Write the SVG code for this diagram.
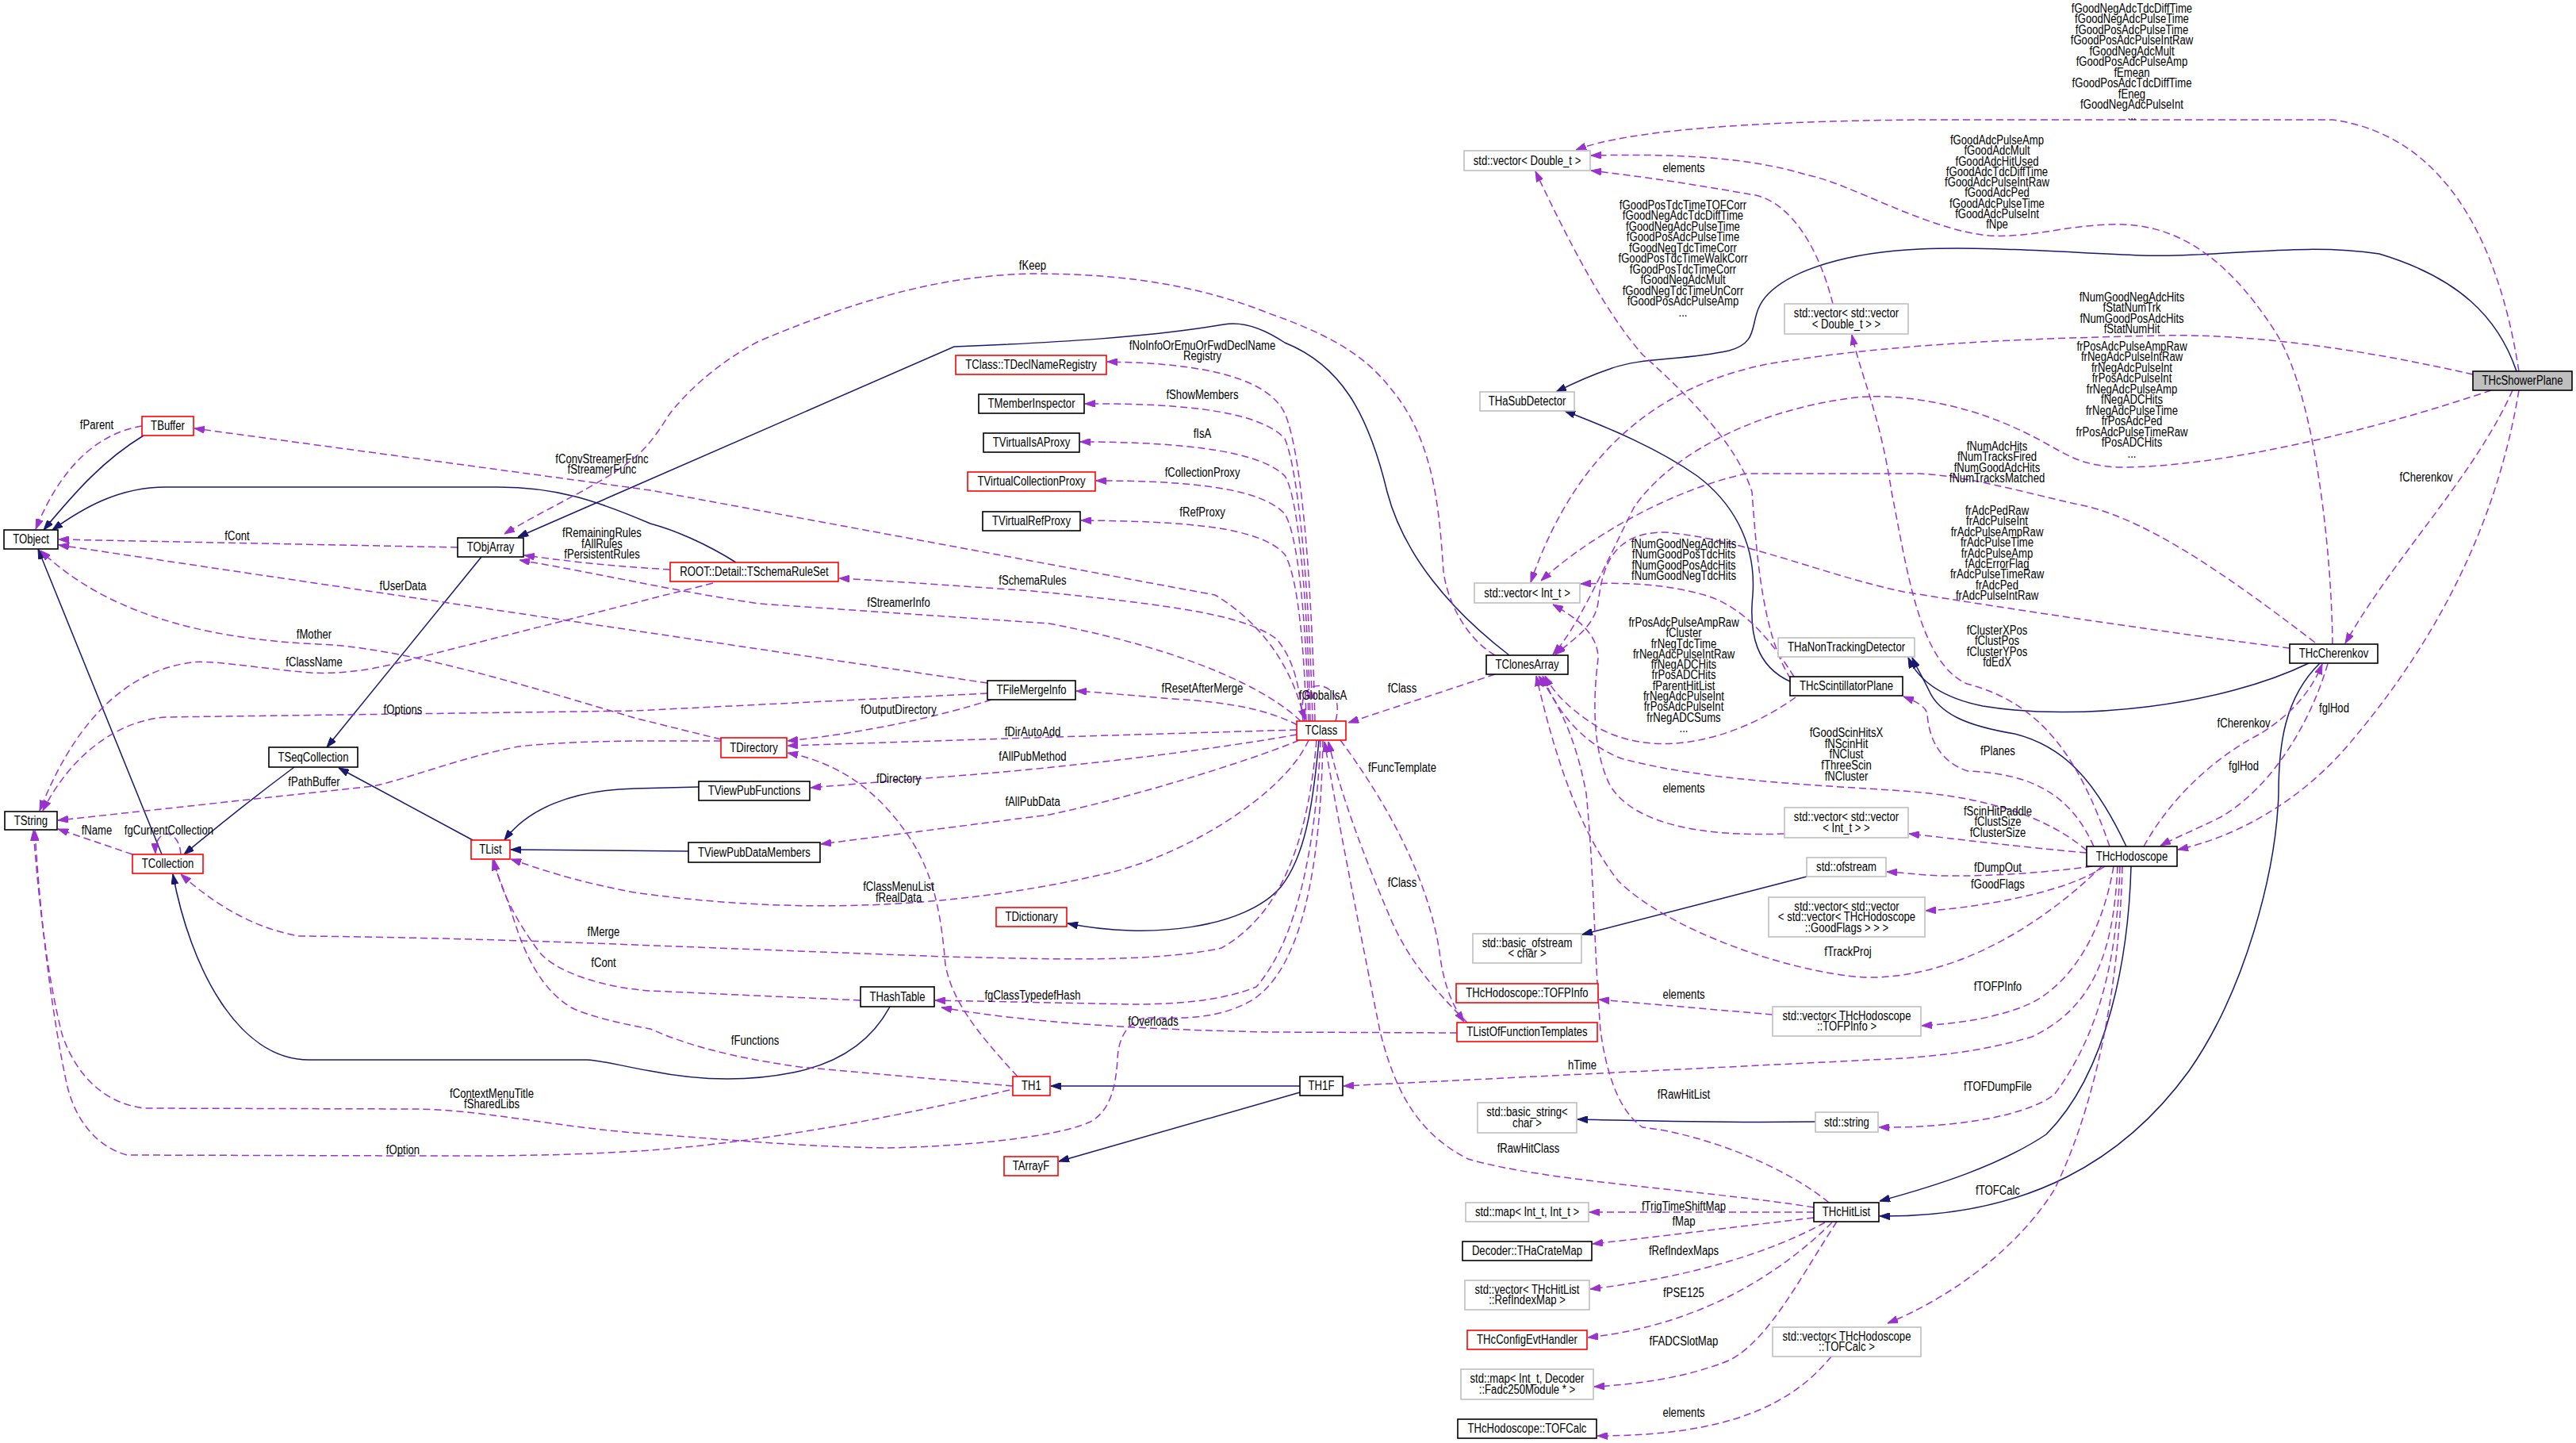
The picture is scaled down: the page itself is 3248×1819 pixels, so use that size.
<svg xmlns="http://www.w3.org/2000/svg" width="3248" height="1819" viewBox="0 0 3248 1819">
<style>
text{font-family:"Liberation Sans",Arial,sans-serif;font-size:16px;fill:#000;text-anchor:middle;transform-box:fill-box;transform-origin:center;transform:scaleX(0.82)}
.node rect{fill:#fff;stroke:#000;stroke-width:1.6}
.node.red rect{stroke:#ff0000}
.node.gray rect{stroke:#bfbfbf}
.node.root rect{fill:#bfbfbf;stroke:#000}
.e path{fill:none}
.d{stroke:#9a32cd;stroke-width:1.5;stroke-dasharray:9,5;marker-end:url(#ap)}
.s{stroke:#191970;stroke-width:1.5;marker-end:url(#an)}
</style>
<defs>
<marker id="ap" viewBox="0 0 13 9" refX="13" refY="4.5" markerWidth="13" markerHeight="9" markerUnits="userSpaceOnUse" orient="auto"><path d="M0,0 L13,4.5 L0,9 z" fill="#9a32cd" stroke="#9a32cd"/></marker>
<marker id="an" viewBox="0 0 13 9" refX="13" refY="4.5" markerWidth="13" markerHeight="9" markerUnits="userSpaceOnUse" orient="auto"><path d="M0,0 L13,4.5 L0,9 z" fill="#191970" stroke="#191970"/></marker>
</defs>
<rect x="0" y="0" width="3248" height="1819" fill="#fff"/>

<g id="edges" class="e">
<!-- inheritance -->
<path class="s" d="M181,549 C130,580 95,620 55,668"/>
<path class="s" d="M607,702 L412,942"/>
<path class="s" d="M371,967 Q300,1020 232,1077"/>
<path class="s" d="M204,1077 L48,692"/>
<path class="s" d="M596,1059 L427,968"/>
<path class="s" d="M1122,1269 C1100,1310 1060,1340 1000,1352 C940,1364 880,1362 820,1350 C780,1343 760,1337 740,1336 L390,1336 C300,1336 240,1220 218,1102"/>
<path class="s" d="M881,992 L800,994 C720,996 665,1020 636,1059"/>
<path class="s" d="M868,1073 L644,1071"/>
<path class="s" d="M1663,933 C1655,1020 1645,1080 1615,1118 C1570,1170 1450,1185 1346,1164"/>
<path class="s" d="M1639,1369 L1325,1369"/>
<path class="s" d="M1639,1377 L1335,1464"/>
<path class="s" d="M1903,826 C1830,770 1770,700 1749,620 C1725,520 1690,460 1620,432 C1590,412 1565,405 1543,409 C1450,425 1330,432 1203,437 L653,677"/>
<path class="s" d="M928,709 C890,685 850,668 820,660 C750,630 700,614 628,614 L209,614 C150,614 105,640 66,668"/>
<path class="s" d="M2257,859 C2215,840 2205,800 2210,750 C2215,680 2180,630 2140,600 C2090,565 2030,540 1973,518"/>
<path class="s" d="M3173,468 C3150,400 3100,350 3000,320 C2900,305 2800,325 2700,322 C2600,318 2500,310 2420,314 C2330,318 2260,340 2230,370 C2200,400 2225,430 2180,442 C2120,455 2070,450 2030,465 C2000,475 1980,485 1962,494"/>
<path class="s" d="M2911,836 C2800,890 2620,910 2500,890 C2450,880 2420,860 2406,829"/>
<path class="s" d="M2681,1067 C2640,980 2600,940 2540,925 C2480,915 2445,900 2432,870 C2422,850 2416,840 2411,829"/>
<path class="s" d="M2687,1092 C2684,1200 2660,1350 2580,1430 C2520,1470 2440,1495 2370,1514"/>
<path class="s" d="M2925,836 C2880,880 2873,940 2873,1000 C2870,1100 2830,1250 2760,1350 C2680,1460 2560,1535 2370,1533"/>
<path class="s" d="M2278,1105 L1995,1178"/>
<path class="s" d="M2289,1414 C2150,1416 2050,1412 1989,1411"/>
<!-- usage -->
<path class="d" d="M179,537 C130,545 80,580 45,667"/>
<path class="d" d="M577,690 L74,680"/>
<path class="d" d="M1245,861 L74,687"/>
<path class="d" d="M909,932 L800,905 C650,860 500,815 400,812 C250,805 130,770 51,694"/>
<path class="d" d="M899,735 C860,745 830,752 800,760 L523,830 C470,845 430,850 392,848 C320,842 260,830 235,836 C150,850 90,920 50,1022"/>
<path class="d" d="M1245,874 L800,896 L209,904 C150,908 90,950 54,1022"/>
<path class="d" d="M909,934 L800,934 C720,935 680,938 654,941 C580,955 520,980 471,991 L73,1034"/>
<path class="d" d="M167,1077 L73,1045"/>
<path class="d" d="M228,1077 C226,1043 194,1043 196,1076"/>
<path class="d" d="M1885,826 C1850,806 1825,760 1820,720 C1815,650 1810,560 1757,494 C1730,460 1700,430 1600,395 C1500,355 1400,345 1302,345 C1200,347 1100,370 957,430 C900,460 860,500 842,525 C830,545 815,565 800,577 C760,610 690,640 636,673"/>
<path class="d" d="M845,718 L800,715 C760,712 720,708 661,700"/>
<path class="d" d="M1640,909 C1600,870 1500,820 1323,786 L957,761 C850,745 750,722 655,706"/>
<path class="d" d="M1645,909 C1630,840 1590,785 1532,750 L820,618 L245,540"/>
<path class="d" d="M1658,909 C1655,780 1645,580 1620,521 C1600,480 1530,458 1396,456"/>
<path class="d" d="M1655,909 C1652,780 1640,600 1620,553 C1590,520 1500,508 1368,509"/>
<path class="d" d="M1652,909 C1650,800 1640,630 1620,600 C1590,570 1500,557 1362,557"/>
<path class="d" d="M1650,909 C1648,820 1640,680 1620,648 C1590,615 1500,606 1382,606"/>
<path class="d" d="M1647,909 C1645,830 1638,730 1620,699 C1590,665 1500,657 1363,656"/>
<path class="d" d="M1643,909 C1638,860 1630,830 1610,806 C1570,775 1480,763 1302,745 C1200,738 1100,731 1058,729"/>
<path class="d" d="M1636,914 C1600,895 1550,885 1480,881 C1430,877 1390,873 1357,871"/>
<path class="d" d="M1635,920 L1300,930 L993,940"/>
<path class="d" d="M1250,882 C1180,905 1080,925 993,934"/>
<path class="d" d="M1283,1357 C1230,1300 1200,1260 1192,1216 C1187,1160 1180,1100 1140,1046 C1100,990 1050,960 993,949"/>
<path class="d" d="M1635,926 C1500,950 1300,972 1166,981 L1022,993"/>
<path class="d" d="M1638,933 C1600,950 1450,1000 1323,1027 L1035,1064"/>
<path class="d" d="M1650,933 C1620,1000 1500,1075 1400,1100 C1250,1135 1050,1160 800,1125 C720,1110 680,1095 644,1083"/>
<path class="d" d="M1660,933 C1650,1050 1620,1150 1540,1195 C1450,1215 1300,1208 1192,1206 L800,1191 C650,1185 500,1181 377,1180 C320,1170 270,1140 228,1102"/>
<path class="d" d="M1085,1261 L820,1249 C760,1245 700,1225 680,1200 C650,1160 630,1120 623,1084"/>
<path class="d" d="M1277,1369 L1009,1345 C900,1330 850,1310 820,1297 C780,1290 740,1280 720,1270 C680,1245 660,1200 645,1150 C635,1120 626,1100 621,1084"/>
<path class="d" d="M1665,933 C1660,1050 1640,1180 1584,1244 C1540,1262 1480,1266 1428,1266 L1179,1261"/>
<path class="d" d="M1837,1302 L1600,1301 C1450,1298 1300,1290 1187,1270"/>
<path class="d" d="M1668,933 C1665,1100 1640,1220 1580,1260 C1530,1290 1470,1282 1443,1283 C1420,1290 1410,1310 1409,1335 C1407,1370 1400,1400 1375,1414 C1330,1435 1200,1446 1114,1447 C1000,1445 900,1435 800,1428 C700,1420 600,1398 523,1398 L183,1397 C120,1390 90,1340 78,1303 C60,1230 50,1150 42,1047"/>
<path class="d" d="M1273,1374 C1100,1415 950,1440 820,1450 C700,1458 600,1457 523,1457 L160,1456 C120,1445 95,1410 85,1370 C65,1280 50,1150 44,1047"/>
<path class="d" d="M1885,850 L1700,911"/>
<path class="d" d="M1690,933 C1740,1000 1800,1100 1815,1200 C1820,1240 1830,1265 1846,1288"/>
<path class="d" d="M1850,1289 C1800,1240 1770,1200 1750,1150 C1720,1080 1690,1000 1675,935"/>
<path class="d" d="M2287,1522 C2150,1500 1950,1490 1851,1461 C1790,1430 1760,1380 1740,1300 C1720,1200 1690,1050 1670,935"/>
<path class="d" d="M1684,909 C1700,850 1625,850 1646,907"/>
<path class="d" d="M2306,1516 C2250,1470 2150,1430 2071,1421 C2040,1400 2025,1350 2018,1299 C2010,1200 2010,1100 2000,1000 C1985,920 1960,880 1940,852"/>
<path class="d" d="M2264,879 C2200,925 2100,960 2020,920 C1980,895 1960,875 1948,852"/>
<path class="d" d="M2631,1072 C2570,1020 2480,1003 2400,997 C2300,990 2150,985 2044,956 C1990,935 1960,890 1945,852"/>
<path class="d" d="M2250,1051 C2150,1055 2060,1040 2030,990 C2005,940 2010,870 2015,830 C2015,800 1990,780 1958,762"/>
<path class="d" d="M2650,1092 C2560,1180 2450,1235 2350,1232 C2250,1225 2100,1170 2040,1110 C1985,1040 1955,930 1937,852"/>
<path class="d" d="M3118,472 C3000,445 2850,420 2724,423 C2600,426 2400,430 2228,459 C2100,485 1990,560 1930,734"/>
<path class="d" d="M2919,810 C2800,719 2700,650 2616,635 C2550,620 2480,600 2420,597 L2201,597 C2100,620 2000,680 1943,732"/>
<path class="d" d="M3141,492 C3000,540 2800,590 2670,589 C2600,585 2600,560 2508,526 C2450,505 2380,495 2332,502 C2200,520 2100,580 2060,640 C2020,720 1990,790 1958,825"/>
<path class="d" d="M2887,817 C2750,800 2550,770 2400,746 C2300,725 2200,680 2100,671 C2030,670 2020,720 2015,760 C2010,790 1985,805 1961,825"/>
<path class="d" d="M2262,853 C2235,810 2200,765 2149,750 C2100,736 2050,734 1993,736"/>
<path class="d" d="M2258,856 C2222,800 2215,700 2209,620 C2190,560 2130,500 2071,447 C2030,400 1990,330 1936,216"/>
<path class="d" d="M2311,383 C2290,300 2250,250 2207,245 C2150,235 2090,225 2006,215"/>
<path class="d" d="M3176,468 C3150,300 3080,170 2941,151 L2420,151 C2200,153 2050,165 1987,189"/>
<path class="d" d="M2941,812 C2940,700 2920,500 2870,420 C2800,310 2730,280 2660,283 C2600,285 2560,300 2508,297 C2430,290 2330,230 2280,221 C2200,196 2100,194 2006,196"/>
<path class="d" d="M2660,1067 C2620,950 2570,885 2480,862 C2420,835 2405,720 2385,620 C2370,520 2345,470 2335,422"/>
<path class="d" d="M2640,1067 C2610,1000 2560,975 2481,972 C2445,960 2432,930 2430,900 C2428,890 2415,884 2400,878"/>
<path class="d" d="M2631,1075 C2550,1068 2470,1058 2407,1051"/>
<path class="d" d="M2638,1092 C2580,1100 2508,1105 2450,1104 C2420,1103 2400,1100 2379,1099"/>
<path class="d" d="M2654,1092 C2620,1115 2562,1130 2500,1140 C2470,1145 2445,1147 2428,1148"/>
<path class="d" d="M2665,1092 C2650,1180 2610,1240 2560,1265 C2520,1283 2470,1290 2423,1293"/>
<path class="d" d="M2670,1092 C2665,1200 2640,1270 2562,1307 C2500,1325 2450,1330 2400,1334 L1694,1369"/>
<path class="d" d="M2673,1092 C2670,1200 2650,1300 2590,1380 C2550,1410 2450,1422 2369,1421"/>
<path class="d" d="M2676,1092 C2672,1250 2640,1400 2590,1500 C2540,1580 2450,1640 2380,1668"/>
<path class="d" d="M2703,1067 C2740,1000 2800,950 2850,925 C2890,900 2915,870 2928,837"/>
<path class="d" d="M2935,837 C2910,920 2860,995 2800,1030 C2770,1045 2745,1055 2724,1066"/>
<path class="d" d="M3168,492 C3120,600 3020,700 2957,811"/>
<path class="d" d="M3176,492 C3150,650 3080,800 2960,940 C2900,1010 2820,1055 2746,1071"/>
<path class="d" d="M2287,1528 L2004,1528"/>
<path class="d" d="M2287,1535 C2200,1545 2100,1558 2008,1568"/>
<path class="d" d="M2301,1541 C2230,1580 2130,1610 2005,1625"/>
<path class="d" d="M2310,1541 C2250,1600 2150,1670 2002,1686"/>
<path class="d" d="M2316,1540 C2270,1610 2230,1690 2180,1715 C2130,1735 2070,1745 2010,1748"/>
<path class="d" d="M2309,1710 C2260,1770 2180,1810 2014,1810"/>
<path class="d" d="M2235,1279 L2016,1260"/>
<!-- labels -->
<text x="122" y="541">fParent</text>
<text x="299" y="681">fCont</text>
<text x="508" y="744">fUserData</text>
<text x="396" y="805">fMother</text>
<text x="396" y="840">fClassName</text>
<text x="508" y="900">fOptions</text>
<text x="396" y="991">fPathBuffer</text>
<text x="122" y="1052">fName</text>
<text x="213" y="1052">fgCurrentCollection</text>
<text x="1302" y="340">fKeep</text>
<text x="759" y="584">fConvStreamerFunc</text>
<text x="759" y="597">fStreamerFunc</text>
<text x="759" y="677">fRemainingRules</text>
<text x="759" y="691">fAllRules</text>
<text x="759" y="704">fPersistentRules</text>
<text x="1133" y="765">fStreamerInfo</text>
<text x="1516" y="441">fNoInfoOrEmuOrFwdDeclName</text>
<text x="1516" y="454">Registry</text>
<text x="1516" y="503">fShowMembers</text>
<text x="1516" y="552">fIsA</text>
<text x="1516" y="601">fCollectionProxy</text>
<text x="1516" y="651">fRefProxy</text>
<text x="1302" y="737">fSchemaRules</text>
<text x="1516" y="873">fResetAfterMerge</text>
<text x="1302" y="928">fDirAutoAdd</text>
<text x="1133" y="900">fOutputDirectory</text>
<text x="1133" y="987">fDirectory</text>
<text x="1302" y="959">fAllPubMethod</text>
<text x="1302" y="1016">fAllPubData</text>
<text x="1133" y="1123">fClassMenuList</text>
<text x="1133" y="1137">fRealData</text>
<text x="761" y="1180">fMerge</text>
<text x="761" y="1219">fCont</text>
<text x="952" y="1317">fFunctions</text>
<text x="1302" y="1260">fgClassTypedefHash</text>
<text x="1454" y="1293">fOverloads</text>
<text x="620" y="1384">fContextMenuTitle</text>
<text x="620" y="1397">fSharedLibs</text>
<text x="508" y="1455">fOption</text>
<text x="1668" y="882">fGlobalIsA</text>
<text x="1768" y="873">fClass</text>
<text x="1768" y="973">fFuncTemplate</text>
<text x="1768" y="1118">fClass</text>
<text x="1927" y="1453">fRawHitClass</text>
<text x="2123" y="1385">fRawHitList</text>
<text x="2123" y="999">elements</text>
<text x="2330" y="1205">fTrackProj</text>
<text x="2123" y="217">elements</text>
<g>
<text x="2123" y="790">frPosAdcPulseAmpRaw</text>
<text x="2123" y="803.3">fCluster</text>
<text x="2123" y="816.6">frNegTdcTime</text>
<text x="2123" y="829.9">frNegAdcPulseIntRaw</text>
<text x="2123" y="843.2">frNegADCHits</text>
<text x="2123" y="856.5">frPosADCHits</text>
<text x="2123" y="869.8">fParentHitList</text>
<text x="2123" y="883.1">frNegAdcPulseInt</text>
<text x="2123" y="896.4">frPosAdcPulseInt</text>
<text x="2123" y="909.7">frNegADCSums</text>
<text x="2123" y="923">...</text>
</g>
<g>
<text x="2328" y="929">fGoodScinHitsX</text>
<text x="2328" y="942.7">fNScinHit</text>
<text x="2328" y="956.4">fNClust</text>
<text x="2328" y="970.1">fThreeScin</text>
<text x="2328" y="983.8">fNCluster</text>
</g>
<g>
<text x="2123" y="691">fNumGoodNegAdcHits</text>
<text x="2123" y="704.5">fNumGoodPosTdcHits</text>
<text x="2123" y="718">fNumGoodPosAdcHits</text>
<text x="2123" y="731.5">fNumGoodNegTdcHits</text>
</g>
<g>
<text x="2122" y="264">fGoodPosTdcTimeTOFCorr</text>
<text x="2122" y="277.5">fGoodNegAdcTdcDiffTime</text>
<text x="2122" y="291">fGoodNegAdcPulseTime</text>
<text x="2122" y="304.5">fGoodPosAdcPulseTime</text>
<text x="2122" y="318">fGoodNegTdcTimeCorr</text>
<text x="2122" y="331.5">fGoodPosTdcTimeWalkCorr</text>
<text x="2122" y="345">fGoodPosTdcTimeCorr</text>
<text x="2122" y="358.5">fGoodNegAdcMult</text>
<text x="2122" y="372">fGoodNegTdcTimeUnCorr</text>
<text x="2122" y="385.5">fGoodPosAdcPulseAmp</text>
<text x="2122" y="399">...</text>
</g>
<g>
<text x="2688" y="16">fGoodNegAdcTdcDiffTime</text>
<text x="2688" y="29.5">fGoodNegAdcPulseTime</text>
<text x="2688" y="43">fGoodPosAdcPulseTime</text>
<text x="2688" y="56.5">fGoodPosAdcPulseIntRaw</text>
<text x="2688" y="70">fGoodNegAdcMult</text>
<text x="2688" y="83.5">fGoodPosAdcPulseAmp</text>
<text x="2688" y="97">fEmean</text>
<text x="2688" y="110.5">fGoodPosAdcTdcDiffTime</text>
<text x="2688" y="124">fEneg</text>
<text x="2688" y="137.5">fGoodNegAdcPulseInt</text>
<text x="2688" y="151">...</text>
</g>
<g>
<text x="2518" y="182">fGoodAdcPulseAmp</text>
<text x="2518" y="195.3">fGoodAdcMult</text>
<text x="2518" y="208.6">fGoodAdcHitUsed</text>
<text x="2518" y="221.9">fGoodAdcTdcDiffTime</text>
<text x="2518" y="235.2">fGoodAdcPulseIntRaw</text>
<text x="2518" y="248.5">fGoodAdcPed</text>
<text x="2518" y="261.8">fGoodAdcPulseTime</text>
<text x="2518" y="275.1">fGoodAdcPulseInt</text>
<text x="2518" y="288.4">fNpe</text>
</g>
<g>
<text x="2688" y="380">fNumGoodNegAdcHits</text>
<text x="2688" y="393.3">fStatNumTrk</text>
<text x="2688" y="406.6">fNumGoodPosAdcHits</text>
<text x="2688" y="419.9">fStatNumHit</text>
</g>
<g>
<text x="2688" y="442">frPosAdcPulseAmpRaw</text>
<text x="2688" y="455.5">frNegAdcPulseIntRaw</text>
<text x="2688" y="469">frNegAdcPulseInt</text>
<text x="2688" y="482.5">frPosAdcPulseInt</text>
<text x="2688" y="496">frNegAdcPulseAmp</text>
<text x="2688" y="509.5">fNegADCHits</text>
<text x="2688" y="523">frNegAdcPulseTime</text>
<text x="2688" y="536.5">frPosAdcPed</text>
<text x="2688" y="550">frPosAdcPulseTimeRaw</text>
<text x="2688" y="563.5">fPosADCHits</text>
<text x="2688" y="577">...</text>
</g>
<g>
<text x="2518" y="568">fNumAdcHits</text>
<text x="2518" y="581.3">fNumTracksFired</text>
<text x="2518" y="594.6">fNumGoodAdcHits</text>
<text x="2518" y="607.9">fNumTracksMatched</text>
</g>
<g>
<text x="2518" y="649">frAdcPedRaw</text>
<text x="2518" y="662.4">frAdcPulseInt</text>
<text x="2518" y="675.8">frAdcPulseAmpRaw</text>
<text x="2518" y="689.2">frAdcPulseTime</text>
<text x="2518" y="702.6">frAdcPulseAmp</text>
<text x="2518" y="716">fAdcErrorFlag</text>
<text x="2518" y="729.4">frAdcPulseTimeRaw</text>
<text x="2518" y="742.8">frAdcPed</text>
<text x="2518" y="756.2">frAdcPulseIntRaw</text>
</g>
<g>
<text x="2518" y="800">fClusterXPos</text>
<text x="2518" y="813.5">fClustPos</text>
<text x="2518" y="827">fClusterYPos</text>
<text x="2518" y="840.5">fdEdX</text>
</g>
<text x="2519" y="952">fPlanes</text>
<text x="2519" y="1028">fScinHitPaddle</text>
<text x="2519" y="1041.5">fClustSize</text>
<text x="2519" y="1055">fClusterSize</text>
<text x="2519" y="1099">fDumpOut</text>
<text x="2519" y="1120">fGoodFlags</text>
<text x="2519" y="1249">fTOFPInfo</text>
<text x="1995" y="1348">hTime</text>
<text x="2519" y="1375">fTOFDumpFile</text>
<text x="2519" y="1506">fTOFCalc</text>
<text x="2829" y="917">fCherenkov</text>
<text x="2829" y="971">fglHod</text>
<text x="3059" y="607">fCherenkov</text>
<text x="2943" y="898">fglHod</text>
<text x="2123" y="1526">fTrigTimeShiftMap</text>
<text x="2123" y="1545">fMap</text>
<text x="2123" y="1582">fRefIndexMaps</text>
<text x="2123" y="1635">fPSE125</text>
<text x="2123" y="1696">fFADCSlotMap</text>
<text x="2123" y="1786">elements</text>
<text x="2123" y="1259">elements</text>
</g>

<!-- nodes -->
<g id="n_TObject" class="node"><rect x="5" y="668" width="68" height="24"/><text x="39" y="685.5">TObject</text></g>
<g id="n_TObjArray" class="node"><rect x="577" y="678" width="83" height="24"/><text x="618.5" y="695.5">TObjArray</text></g>
<g id="n_TSeqCollection" class="node"><rect x="339" y="942" width="112" height="25"/><text x="395" y="960">TSeqCollection</text></g>
<g id="n_TString" class="node"><rect x="6" y="1023" width="66" height="23"/><text x="39" y="1040">TString</text></g>
<g id="n_TMemberInspector" class="node"><rect x="1234" y="497" width="133" height="24"/><text x="1300.5" y="514.5">TMemberInspector</text></g>
<g id="n_TVirtualIsAProxy" class="node"><rect x="1240" y="546" width="121" height="24"/><text x="1300.5" y="563.5">TVirtualIsAProxy</text></g>
<g id="n_TVirtualRefProxy" class="node"><rect x="1239" y="645" width="123" height="24"/><text x="1300.5" y="662.5">TVirtualRefProxy</text></g>
<g id="n_TFileMergeInfo" class="node"><rect x="1245" y="858" width="111" height="24"/><text x="1300.5" y="875.5">TFileMergeInfo</text></g>
<g id="n_TViewPubFunctions" class="node"><rect x="881" y="985" width="140" height="24"/><text x="951" y="1002.5">TViewPubFunctions</text></g>
<g id="n_TViewPubDataMembers" class="node"><rect x="868" y="1062" width="166" height="25"/><text x="951" y="1080">TViewPubDataMembers</text></g>
<g id="n_THashTable" class="node"><rect x="1085" y="1244" width="93" height="25"/><text x="1131.5" y="1262">THashTable</text></g>
<g id="n_TH1F" class="node"><rect x="1639" y="1357" width="54" height="24"/><text x="1666" y="1374.5">TH1F</text></g>
<g id="n_TClonesArray" class="node"><rect x="1874" y="826" width="103" height="24"/><text x="1925.5" y="843.5">TClonesArray</text></g>
<g id="n_THcScintillatorPlane" class="node"><rect x="2257" y="853" width="142" height="24"/><text x="2328" y="870.5">THcScintillatorPlane</text></g>
<g id="n_THcCherenkov" class="node"><rect x="2887" y="812" width="111" height="24"/><text x="2942.5" y="829.5">THcCherenkov</text></g>
<g id="n_THcHodoscope" class="node"><rect x="2631" y="1067" width="114" height="25"/><text x="2688" y="1085">THcHodoscope</text></g>
<g id="n_THcHitList" class="node"><rect x="2287" y="1516" width="82" height="24"/><text x="2328" y="1533.5">THcHitList</text></g>
<g id="n_THaCrateMap" class="node"><rect x="1844" y="1565" width="163" height="24"/><text x="1925.5" y="1582.5">Decoder::THaCrateMap</text></g>
<g id="n_TOFCalc" class="node"><rect x="1838" y="1789" width="175" height="24"/><text x="1925.5" y="1806.5">THcHodoscope::TOFCalc</text></g>

<g id="n_TBuffer" class="node red"><rect x="179" y="525" width="65" height="24"/><text x="211.5" y="542.5">TBuffer</text></g>
<g id="n_TCollection" class="node red"><rect x="167" y="1077" width="89" height="24"/><text x="211.5" y="1094.5">TCollection</text></g>
<g id="n_TList" class="node red"><rect x="594" y="1059" width="49" height="24"/><text x="618.5" y="1076.5">TList</text></g>
<g id="n_TDeclNameRegistry" class="node red"><rect x="1205" y="448" width="190" height="24"/><text x="1300" y="465.5">TClass::TDeclNameRegistry</text></g>
<g id="n_TVirtualCollectionProxy" class="node red"><rect x="1220" y="595" width="161" height="24"/><text x="1300.5" y="612.5">TVirtualCollectionProxy</text></g>
<g id="n_TSchemaRuleSet" class="node red"><rect x="845" y="709" width="212" height="24"/><text x="951" y="726.5">ROOT::Detail::TSchemaRuleSet</text></g>
<g id="n_TDirectory" class="node red"><rect x="909" y="930" width="83" height="25"/><text x="950.5" y="948">TDirectory</text></g>
<g id="n_TDictionary" class="node red"><rect x="1256" y="1144" width="89" height="24"/><text x="1300.5" y="1161.5">TDictionary</text></g>
<g id="n_TH1" class="node red"><rect x="1277" y="1357" width="47" height="24"/><text x="1300.5" y="1374.5">TH1</text></g>
<g id="n_TArrayF" class="node red"><rect x="1266" y="1458" width="68" height="24"/><text x="1300" y="1475.5">TArrayF</text></g>
<g id="n_TClass" class="node red"><rect x="1635" y="909" width="62" height="24"/><text x="1666" y="926.5">TClass</text></g>
<g id="n_TOFPInfo" class="node red"><rect x="1836" y="1240" width="179" height="24"/><text x="1925.5" y="1257.5">THcHodoscope::TOFPInfo</text></g>
<g id="n_TListOfFunctionTemplates" class="node red"><rect x="1837" y="1289" width="177" height="24"/><text x="1925.5" y="1306.5">TListOfFunctionTemplates</text></g>
<g id="n_THcConfigEvtHandler" class="node red"><rect x="1850" y="1677" width="151" height="24"/><text x="1925.5" y="1694.5">THcConfigEvtHandler</text></g>

<g id="n_vDouble" class="node gray"><rect x="1846" y="190" width="159" height="25"/><text x="1925.5" y="208">std::vector&lt; Double_t &gt;</text></g>
<g id="n_vvDouble" class="node gray"><rect x="2250" y="383" width="156" height="38"/><text x="2328" y="400.5">std::vector&lt; std::vector</text><text x="2328" y="414">&lt; Double_t &gt; &gt;</text></g>
<g id="n_THaSubDetector" class="node gray"><rect x="1866" y="494" width="119" height="24"/><text x="1925.5" y="511.5">THaSubDetector</text></g>
<g id="n_vInt" class="node gray"><rect x="1859" y="735" width="133" height="25"/><text x="1925.5" y="753">std::vector&lt; Int_t &gt;</text></g>
<g id="n_THaNonTrackingDetector" class="node gray"><rect x="2242" y="804" width="172" height="24"/><text x="2328" y="821.5">THaNonTrackingDetector</text></g>
<g id="n_vvInt" class="node gray"><rect x="2250" y="1018" width="156" height="38"/><text x="2328" y="1035.5">std::vector&lt; std::vector</text><text x="2328" y="1049">&lt; Int_t &gt; &gt;</text></g>
<g id="n_ofstream" class="node gray"><rect x="2278" y="1081" width="100" height="24"/><text x="2328" y="1098.5">std::ofstream</text></g>
<g id="n_vvvGoodFlags" class="node gray"><rect x="2230" y="1131" width="197" height="50"/><text x="2328.5" y="1148">std::vector&lt; std::vector</text><text x="2328.5" y="1161.5">&lt; std::vector&lt; THcHodoscope</text><text x="2328.5" y="1175">::GoodFlags &gt; &gt; &gt;</text></g>
<g id="n_basic_ofstream" class="node gray"><rect x="1857" y="1177" width="137" height="37"/><text x="1925.5" y="1194">std::basic_ofstream</text><text x="1925.5" y="1207.5">&lt; char &gt;</text></g>
<g id="n_vTOFPInfo" class="node gray"><rect x="2235" y="1269" width="187" height="37"/><text x="2328.5" y="1286">std::vector&lt; THcHodoscope</text><text x="2328.5" y="1299.5">::TOFPInfo &gt;</text></g>
<g id="n_basic_string" class="node gray"><rect x="1863" y="1390" width="125" height="38"/><text x="1925.5" y="1407.5">std::basic_string&lt;</text><text x="1925.5" y="1421">char &gt;</text></g>
<g id="n_string" class="node gray"><rect x="2289" y="1402" width="79" height="25"/><text x="2328.5" y="1420">std::string</text></g>
<g id="n_mapIntInt" class="node gray"><rect x="1848" y="1516" width="155" height="24"/><text x="1925.5" y="1533.5">std::map&lt; Int_t, Int_t &gt;</text></g>
<g id="n_vRefIndexMap" class="node gray"><rect x="1847" y="1614" width="157" height="37"/><text x="1925.5" y="1631">std::vector&lt; THcHitList</text><text x="1925.5" y="1644.5">::RefIndexMap &gt;</text></g>
<g id="n_mapFadc" class="node gray"><rect x="1842" y="1726" width="167" height="38"/><text x="1925.5" y="1743.5">std::map&lt; Int_t, Decoder</text><text x="1925.5" y="1757">::Fadc250Module * &gt;</text></g>
<g id="n_vTOFCalc" class="node gray"><rect x="2235" y="1673" width="187" height="37"/><text x="2328.5" y="1690">std::vector&lt; THcHodoscope</text><text x="2328.5" y="1703.5">::TOFCalc &gt;</text></g>
<g id="n_THcShowerPlane" class="node root"><rect x="3118" y="468" width="125" height="24"/><text x="3180.5" y="485.5">THcShowerPlane</text></g>
</svg>
